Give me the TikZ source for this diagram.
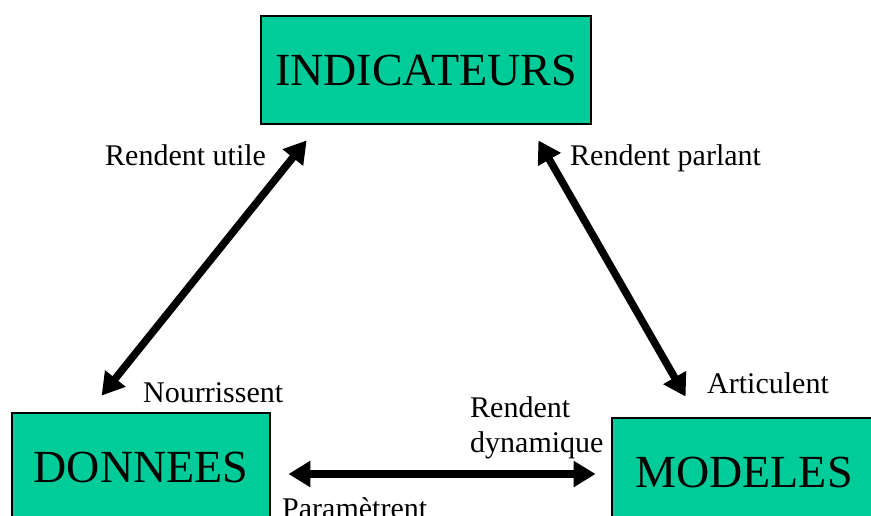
\documentclass[tikz,border=0pt]{standalone}
\usepackage{fontspec}
\setmainfont{Liberation Serif}
\usetikzlibrary{calc, positioning, arrows.meta}
\definecolor{boxgreen}{RGB}{0,204,153}

\begin{document}
\begin{tikzpicture}[
  x=1pt, y=1pt,
  box/.style={draw, line width=2.8pt, fill=boxgreen, minimum height=108pt, inner sep=0pt, font=\fontsize{46}{54}\selectfont},
  lbl/.style={inner sep=0pt, anchor=base west, align=left, font=\fontsize{30}{35}\selectfont},
  link/.style={line width=7.5pt, {Triangle[length=22pt,width=25pt]}-{Triangle[length=22pt,width=25pt]}}
]
\useasboundingbox (0,0) rectangle (871,-515);
\clip (0,0) rectangle (871,-515);

% the three boxes
\node[box, minimum width=330pt] (ind) at (426,-70)  {INDICATEURS};
\node[box, minimum width=258pt] (don) at (141,-467) {DONNEES};
\node[box, minimum width=264pt] (mod) at (744,-472) {MODELES};

% arrow ends, kept clear of the boxes
\coordinate (iL) at ([shift={(47,-15)}]ind.south west);
\coordinate (iR) at ([shift={(-54,-15)}]ind.south east);
\coordinate (dT) at ([shift={(91,16)}]don.north west);
\coordinate (mT) at ([shift={(75,20)}]mod.north west);
\coordinate (dR) at ([shift={(17,-7)}]don.east);
\coordinate (mL) at ([shift={(-15,-2)}]mod.west);

\draw[link] (iL) -- (dT);
\draw[link] (iR) -- (mT);
\draw[link] (dR) -- (mL);

% labels
\node[lbl] (rutile)  at (105,-165) {Rendent utile};
\node[lbl] (rparl)   at (570,-165) {Rendent parlant};
\node[lbl] (nourr)   at (143,-402) {Nourrissent};
\node[lbl] (artic)   at (707,-393) {Articulent};
\node[lbl] (rdyn)    at (470,-452) {Rendent\\dynamique};
\node[lbl] (param)   at (282,-518) {Paramètrent};
\end{tikzpicture}
\end{document}
